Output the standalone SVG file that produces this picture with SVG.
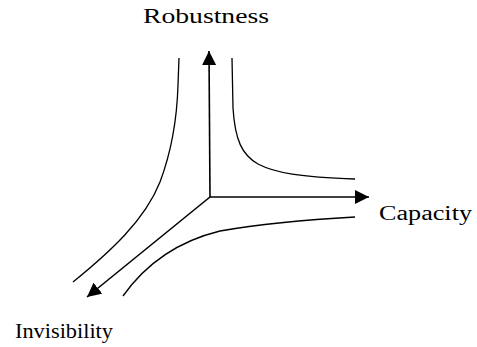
<svg xmlns="http://www.w3.org/2000/svg" width="477" height="347" viewBox="0 0 477 347">
<defs>
<style>
.lbl{font-family:"Liberation Serif","Times New Roman",serif;font-size:20px;fill:#000}
.ax{stroke:#000;stroke-width:1.6;fill:none}
.cv{stroke:#000;stroke-width:1.3;fill:none}
</style>
<marker id="ah" viewBox="0 0 14 14" refX="14" refY="7" markerWidth="14" markerHeight="14" markerUnits="userSpaceOnUse" orient="auto">
<path d="M0,0 L14,7 L0,14 Z" fill="#000"/>
</marker>
</defs>
<rect width="477" height="347" fill="#fff"/>
<g id="connectors">
<line class="ax" x1="210" y1="197" x2="209" y2="51" marker-end="url(#ah)"/>
<line class="ax" x1="210" y1="197" x2="369" y2="197" marker-end="url(#ah)"/>
<line class="ax" x1="210" y1="197" x2="87" y2="297" marker-end="url(#ah)"/>
<path class="cv" d="M179,58 L178,85 C177,120 172,150 160,182 C145,220 110,252 73,282"/>
<path class="cv" d="M232,58 L233,108 C235,140 242,155 258,164 C275,173 300,177 355,179"/>
<path class="cv" d="M355,217 C300,220 260,224 220,231 C175,242 145,265 123,296"/>
</g>
<g id="robustness"><text class="lbl" x="143" y="23" textLength="126" lengthAdjust="spacingAndGlyphs">Robustness</text></g>
<g id="capacity"><text class="lbl" x="379" y="220" textLength="93" lengthAdjust="spacingAndGlyphs">Capacity</text></g>
<g id="invisibility"><text class="lbl" x="15" y="338" textLength="98" lengthAdjust="spacingAndGlyphs">Invisibility</text></g>
</svg>
